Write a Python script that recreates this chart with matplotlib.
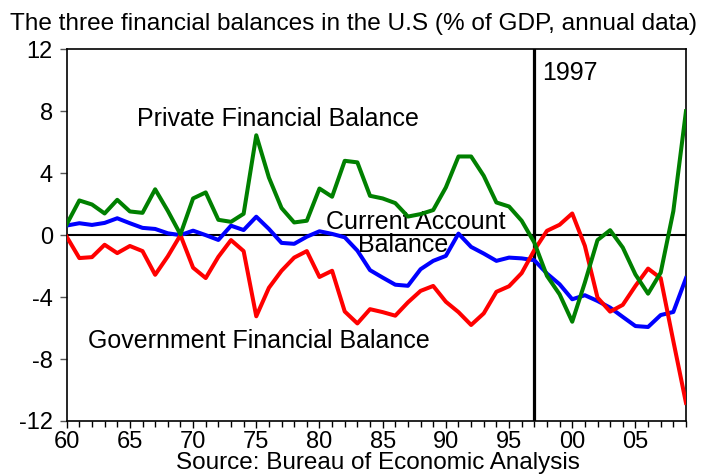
import matplotlib.pyplot as plt
import numpy as np

plt.rcParams['font.family'] = ['Liberation Sans', 'DejaVu Sans']

years = np.arange(1960, 2010)

# Private financial balance (% of GDP)
private = [0.7, 2.24, 1.98, 1.4, 2.28, 1.53, 1.44, 2.96, 1.57, 0.05,
           2.37, 2.76, 0.99, 0.86, 1.38, 6.45, 3.72, 1.75, 0.82, 0.93,
           3.01, 2.48, 4.8, 4.7, 2.54, 2.37, 2.07, 1.2, 1.36, 1.62,
           3.08, 5.08, 5.08, 3.83, 2.11, 1.85, 0.93, -0.48, -2.63, -3.82,
           -5.59, -3.06, -0.32, 0.32, -0.8, -2.54, -3.78, -2.42, 1.55, 8.0]

# Current account balance
current = [0.62, 0.77, 0.66, 0.79, 1.09, 0.77, 0.47, 0.4, 0.12, 0.0,
           0.29, 0.0, -0.31, 0.61, 0.33, 1.19, 0.4, -0.5, -0.56, -0.1,
           0.25, 0.08, -0.14, -1.0, -2.26, -2.74, -3.2, -3.27, -2.2, -1.66,
           -1.34, 0.1, -0.76, -1.19, -1.66, -1.45, -1.5, -1.62, -2.48, -3.17,
           -4.14, -3.88, -4.25, -4.68, -5.28, -5.87, -5.93, -5.16, -4.96, -2.78]

# Government financial balance
government = [-0.1, -1.48, -1.42, -0.62, -1.16, -0.7, -1.03, -2.56, -1.37, 0.0,
              -2.1, -2.77, -1.4, -0.32, -1.03, -5.24, -3.4, -2.3, -1.45, -1.03,
              -2.7, -2.3, -4.93, -5.7, -4.78, -4.97, -5.2, -4.34, -3.6, -3.28,
              -4.3, -4.97, -5.8, -5.05, -3.66, -3.3, -2.45, -0.97, 0.28, 0.67,
              1.4, -0.69, -4.03, -4.94, -4.5, -3.28, -2.16, -2.78, -6.84, -10.83]

xtick_years = [1960, 1965, 1970, 1975, 1980, 1985, 1990, 1995, 2000, 2005]
xtick_labels = ['60', '65', '70', '75', '80', '85', '90', '95', '00', '05']
yticks = [-12, -8, -4, 0, 4, 8, 12]

fig = plt.figure(figsize=(7.11, 4.75), dpi=100)
ax = fig.add_axes([0.0938, 0.1137, 0.8710, 0.7825])

ax.axhline(0, color='black', lw=1.5, zorder=1)
ax.axvline(1997, color='black', lw=2.3, zorder=1)

ax.plot(years, current, color='#0000ff', lw=2.9, zorder=3)
ax.plot(years, government, color='#ff0000', lw=2.9, zorder=4)
ax.plot(years, private, color='#008000', lw=2.9, zorder=5)

ax.set_xlim(1960, 2009)
ax.set_ylim(-12, 12)
ax.set_yticks(yticks)
ax.set_yticklabels([str(v) for v in yticks])
ax.set_xticks(xtick_years)
ax.set_xticklabels(xtick_labels)
ax.set_xticks(years, minor=True)

ax.tick_params(axis='y', direction='out', length=5, width=1, color='#555555',
               labelsize=17, pad=5)
ax.tick_params(axis='x', which='major', direction='out', length=5, width=1,
               labelsize=17, pad=2)
ax.tick_params(axis='x', which='minor', direction='out', length=4, width=1)
for s in ax.spines.values():
    s.set_linewidth(1.2)

# series labels
ax.text(1976.7, 7.5, 'Private Financial Balance', fontsize=18,
        ha='center', va='center')
ax.text(1987.6, 0.86, 'Current Account', fontsize=18, ha='center', va='center')
ax.text(1986.6, -0.64, 'Balance', fontsize=18, ha='center', va='center')
ax.text(1975.2, -6.84, 'Government Financial Balance', fontsize=18,
        ha='center', va='center')
ax.text(1997.6, 10.45, '1997', fontsize=18, ha='left', va='center')

fig.text(10 / 711, 1 - 30 / 475,
         'The three financial balances in the U.S (% of GDP, annual data)',
         fontsize=17.6, ha='left', va='baseline')
fig.text(378 / 711, 1 - 469 / 475, 'Source: Bureau of Economic Analysis',
         fontsize=17.5, ha='center', va='baseline')

fig.savefig('out.png', dpi=100)
